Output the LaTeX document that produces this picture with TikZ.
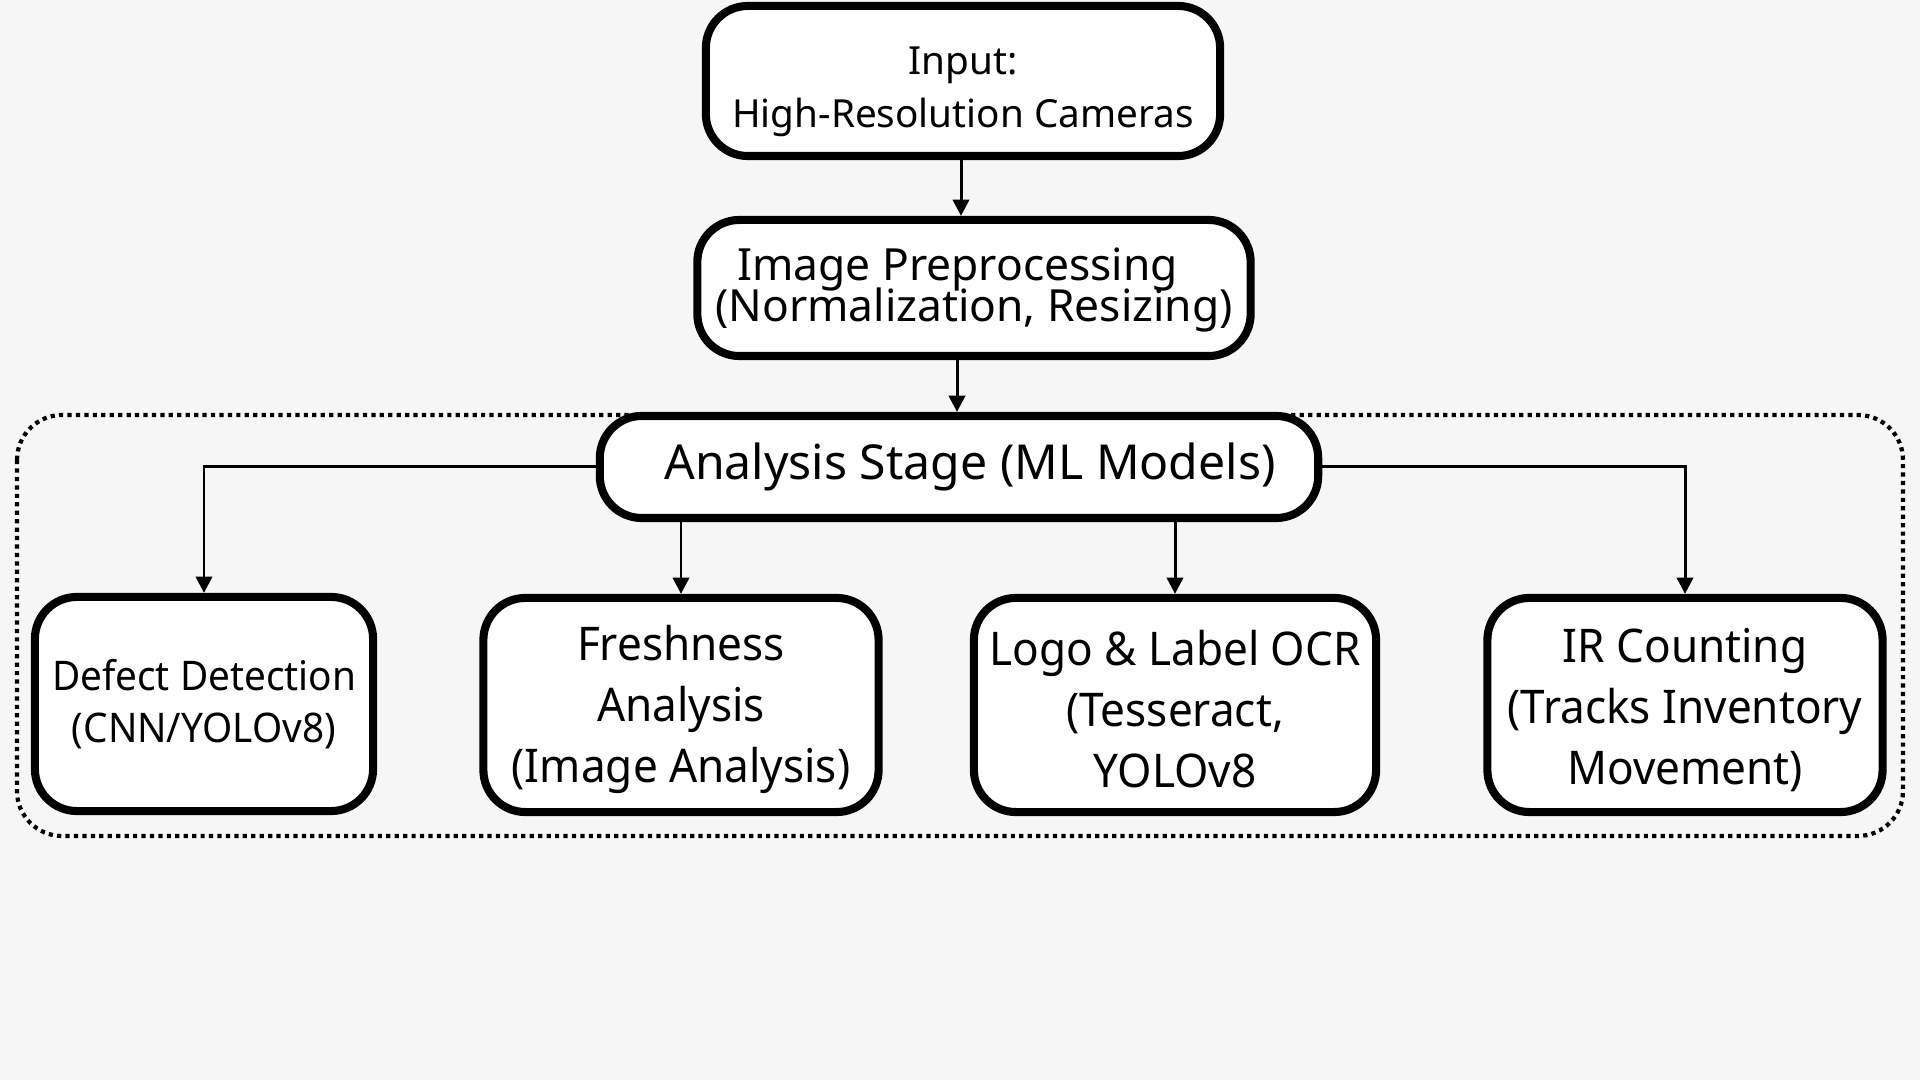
\documentclass[tikz,border=0pt]{standalone}
\usepackage{fontspec}
\setmainfont{Noto Sans}
\newfontfamily\condfont{Noto Sans}[FakeStretch=0.95]
\usepackage{tikz}
\usetikzlibrary{arrows.meta, positioning}
\definecolor{PaperGray}{RGB}{246, 246, 246}
\definecolor{InkBlack}{RGB}{0, 0, 0}
\newcommand{\dropline}[1]{\rule{0pt}{#1}}

\begin{document}
\begin{tikzpicture}[
        x=0.01cm, y=-0.01cm,
        box/.style={draw=InkBlack, line width=2.3pt, fill=white, rounded corners=0.42cm, align=center, inner sep=0pt},
        topbox/.style={box, font=\fontsize{11}{15.3}\selectfont},
        modelbox/.style={box, minimum width=3.95cm, minimum height=2.14cm, font=\condfont\fontsize{13.2}{17.4}\selectfont},
        flow/.style={-{Triangle[length=4.6pt, width=4.6pt]}, line width=0.85pt, InkBlack},
        stageframe/.style={draw=InkBlack, line width=1.2pt, dash pattern=on 1.2pt off 1.2pt, rounded corners=0.45cm}
    ]

    % tło
    \fill[PaperGray] (0,0) rectangle (1920,1080);
    \useasboundingbox (0,0) rectangle (1920,1080);

    % ramka etapu analizy
    \draw[stageframe] (17,415) rectangle (1903,836);

    % Wejście i przetwarzanie wstępne
    \node[topbox, minimum width=5.14cm, minimum height=1.50cm] (cam) at (963,81) {\dropline{14pt}Input:\\High-Resolution Cameras};
    \node[topbox, minimum width=5.53cm, minimum height=1.36cm, font={\fontsize{12.6}{11.8}\selectfont\lineskiplimit=-20pt}] (prep) at (974,288) {\dropline{10.5pt}Image Preprocessing\hspace*{0.33cm}\\(Normalization, Resizing)};

    % Etap analizy
    \node[box, minimum width=7.18cm, minimum height=1.02cm, font=\fontsize{13.7}{16}\selectfont] (ana) at (959,467) {\hspace*{0.22cm}Analysis Stage (ML Models)};

    % Modele
    \node[modelbox, minimum width=3.38cm, font=\condfont\fontsize{11.6}{14.6}\selectfont] (defect) at (204,704) {Defect Detection\\(CNN/YOLOv8)};
    \node[modelbox] (fresh) at (681,705) {\dropline{12.5pt}Freshness\\Analysis\\(Image Analysis)};
    \node[modelbox, minimum width=4.02cm] (ocr) at (1175,705) {\dropline{12.5pt}Logo \& Label OCR\\(Tesseract,\\YOLOv8};
    \node[modelbox] (irc) at (1685,705) {\dropline{12.5pt}IR Counting\\(Tracks Inventory\\Movement)};

    % połączenia
    \draw[flow] (cam.south -| 961,0) -- (prep.north -| 961,0);
    \draw[flow] (prep.south -| 957,0) -- (ana.north -| 957,0);
    \draw[flow] (ana.west) -| (defect.north);
    \draw[flow] (ana.south -| fresh.north) -- (fresh.north);
    \draw[flow] (ana.south -| ocr.north) -- (ocr.north);
    \draw[flow] (ana.east) -| (irc.north);

\end{tikzpicture}
\end{document}
